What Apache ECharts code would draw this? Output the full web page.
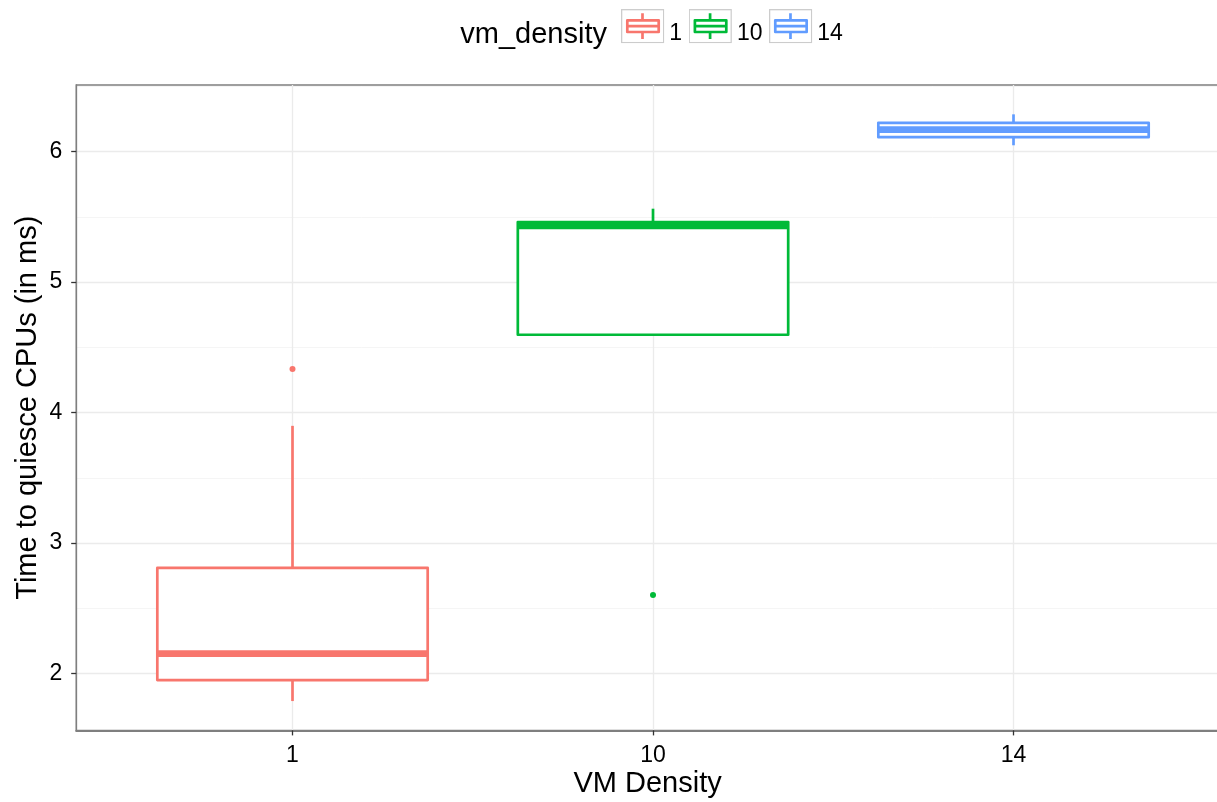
<!DOCTYPE html>
<html>
<head>
<meta charset="utf-8">
<script src="https://cdn.jsdelivr.net/npm/echarts@6/dist/echarts.min.js"></script>
<style>
  html, body { margin: 0; padding: 0; background: #ffffff; }
  #chart { width: 1217px; height: 802px; }
</style>
</head>
<body>
<div id="chart"></div>
<script>
// Quiesce time per VM density: box statistics (ms)
const densities   = ['1', '10', '14'];
const positions   = [1, 2, 3];
const whiskerLow  = [1.789, 4.596, 6.048];
const q1          = [1.950, 4.596, 6.110];
const median      = [2.152, 5.430, 6.167];
const q3          = [2.809, 5.460, 6.220];
const whiskerHigh = [3.898, 5.562, 6.285];
const outliers    = [[4.333], [2.602], []];
const colors      = ['#F8766D', '#00BA38', '#619CFF'];
const yTicks      = [2, 3, 4, 5, 6];
const yMinorTicks = [2.5, 3.5, 4.5, 5.5, 6.5];

const FONT = "'Liberation Sans', Arial, Helvetica, sans-serif";
const BOX_WIDTH = 0.75;   // in category units
const LINE_W = 2.7;

// y range: data range padded by 5% on both sides
const allValues = whiskerLow.concat(whiskerHigh, ...outliers);
const dataLo = Math.min(...allValues);
const dataHi = Math.max(...allValues);
const pad = (dataHi - dataLo) * 0.05;
const yMin = dataLo - pad;
const yMax = dataHi + pad;

// legend key: grey framed square holding a small box-and-whisker glyph
function keyIcon(color) {
  const svg =
    '<svg xmlns="http://www.w3.org/2000/svg" width="43.3" height="34.3" viewBox="0 0 43.3 34.3">' +
    '<rect x="0.65" y="0.65" width="42" height="33" fill="#ffffff" stroke="#CCCCCC" stroke-width="1.3"/>' +
    '<line x1="21.5" y1="4.3" x2="21.5" y2="11.3" stroke="' + color + '" stroke-width="' + LINE_W + '"/>' +
    '<line x1="21.5" y1="23" x2="21.5" y2="30" stroke="' + color + '" stroke-width="' + LINE_W + '"/>' +
    '<rect x="6.3" y="11.3" width="31.4" height="11.7" fill="#ffffff" stroke="' + color + '" stroke-width="' + LINE_W + '" stroke-linejoin="round"/>' +
    '<line x1="6.3" y1="17.2" x2="37.7" y2="17.2" stroke="' + color + '" stroke-width="' + LINE_W + '"/>' +
    '</svg>';
  return 'image://data:image/svg+xml;charset=utf-8,' + encodeURIComponent(svg);
}

function renderBox(params, api) {
  const x = api.value(0);
  const pLow  = api.coord([x, api.value(1)]);
  const pQ1   = api.coord([x, api.value(2)]);
  const pMed  = api.coord([x, api.value(3)]);
  const pQ3   = api.coord([x, api.value(4)]);
  const pHigh = api.coord([x, api.value(5)]);
  const half = api.size([BOX_WIDTH, 0])[0] / 2;
  const color = api.visual('color');
  return {
    type: 'group',
    children: [
      { type: 'line', shape: { x1: pLow[0], y1: pLow[1], x2: pQ1[0], y2: pQ1[1] },
        style: { stroke: color, lineWidth: LINE_W } },
      { type: 'line', shape: { x1: pQ3[0], y1: pQ3[1], x2: pHigh[0], y2: pHigh[1] },
        style: { stroke: color, lineWidth: LINE_W } },
      { type: 'rect', shape: { x: pQ1[0] - half, y: pQ3[1], width: half * 2, height: pQ1[1] - pQ3[1] },
        style: { fill: '#ffffff', stroke: color, lineWidth: LINE_W, lineJoin: 'round' } },
      { type: 'line', shape: { x1: pMed[0] - half, y1: pMed[1], x2: pMed[0] + half, y2: pMed[1] },
        style: { stroke: color, lineWidth: LINE_W * 2.5 } }
    ]
  };
}

const boxSeries = densities.map((d, i) => ({
  type: 'custom',
  name: d,
  renderItem: renderBox,
  itemStyle: { color: colors[i] },
  encode: { x: 0, y: [1, 2, 3, 4, 5] },
  data: [[positions[i], whiskerLow[i], q1[i], median[i], q3[i], whiskerHigh[i]]],
  z: 3
}));

const outlierSeries = densities.map((d, i) => ({
  type: 'scatter',
  name: d,
  symbol: 'circle',
  symbolSize: 6,
  itemStyle: { color: colors[i], opacity: 1 },
  data: outliers[i].map(v => [positions[i], v]),
  z: 4
}));

const chart = echarts.init(document.getElementById('chart'), null, { renderer: 'canvas' });
chart.setOption({
  animation: false,
  backgroundColor: '#ffffff',
  textStyle: { fontFamily: FONT, color: '#000000' },
  title: {
    text: 'vm_density',
    right: 610,
    top: 20,
    padding: 0,
    textStyle: { fontFamily: FONT, fontSize: 29, fontWeight: 'normal', color: '#000000' }
  },
  legend: {
    data: densities.map((d, i) => ({ name: d, icon: keyIcon(colors[i]) })),
    left: 621,
    top: 9,
    padding: 0,
    itemWidth: 43.3,
    itemHeight: 34.3,
    itemGap: 6.5,
    formatter: '{lbl|{name}}',
    textStyle: {
      fontFamily: FONT, fontSize: 23, color: '#000000',
      rich: { lbl: { fontFamily: FONT, fontSize: 23, color: '#000000', padding: [16, 0, 0, 0] } }
    }
  },
  grid: {
    left: 76.2, right: -2, top: 85, bottom: 71.6,
    show: true, borderColor: '#7F7F7F', borderWidth: 1.3,
    containLabel: false,
    outerBoundsMode: 'none'
  },
  xAxis: {
    type: 'value',
    min: 0.4,
    max: 3.57,
    axisLine: { show: true, onZero: false, lineStyle: { color: '#7F7F7F', width: 2 } },
    axisTick: { show: true, customValues: positions, length: 5, lineStyle: { color: '#333333', width: 1.3 } },
    axisLabel: {
      customValues: positions,
      formatter: v => densities[positions.indexOf(v)],
      margin: 14, fontSize: 23, color: '#000000', fontFamily: FONT
    },
    splitLine: { show: true, lineStyle: { color: '#EBEBEB', width: 1.3 } },
    name: 'VM Density',
    nameLocation: 'middle',
    nameGap: 39,
    nameMoveOverlap: false,
    nameTextStyle: { fontSize: 29, color: '#000000', fontFamily: FONT }
  },
  yAxis: [{
    type: 'value',
    min: yMin,
    max: yMax,
    axisLine: { show: true, lineStyle: { color: '#7F7F7F', width: 1.3 } },
    axisTick: { show: true, customValues: yTicks, length: 5, lineStyle: { color: '#333333', width: 1.3 } },
    axisLabel: { customValues: yTicks, margin: 14, fontSize: 23, color: '#000000', fontFamily: FONT },
    splitLine: { show: true, lineStyle: { color: '#EBEBEB', width: 1.3 } },
    name: 'Time to quiesce CPUs (in ms)',
    nameLocation: 'middle',
    nameGap: 34,
    nameMoveOverlap: false,
    nameTextStyle: { fontSize: 29, color: '#000000', fontFamily: FONT }
  }, {
    type: 'value',
    min: yMin,
    max: yMax,
    position: 'left',
    axisLine: { show: false },
    axisTick: { show: false, customValues: yMinorTicks },
    axisLabel: { show: false },
    splitLine: { show: true, lineStyle: { color: '#F5F5F5', width: 1 } }
  }],
  series: boxSeries.concat(outlierSeries)
});
</script>
</body>
</html>
